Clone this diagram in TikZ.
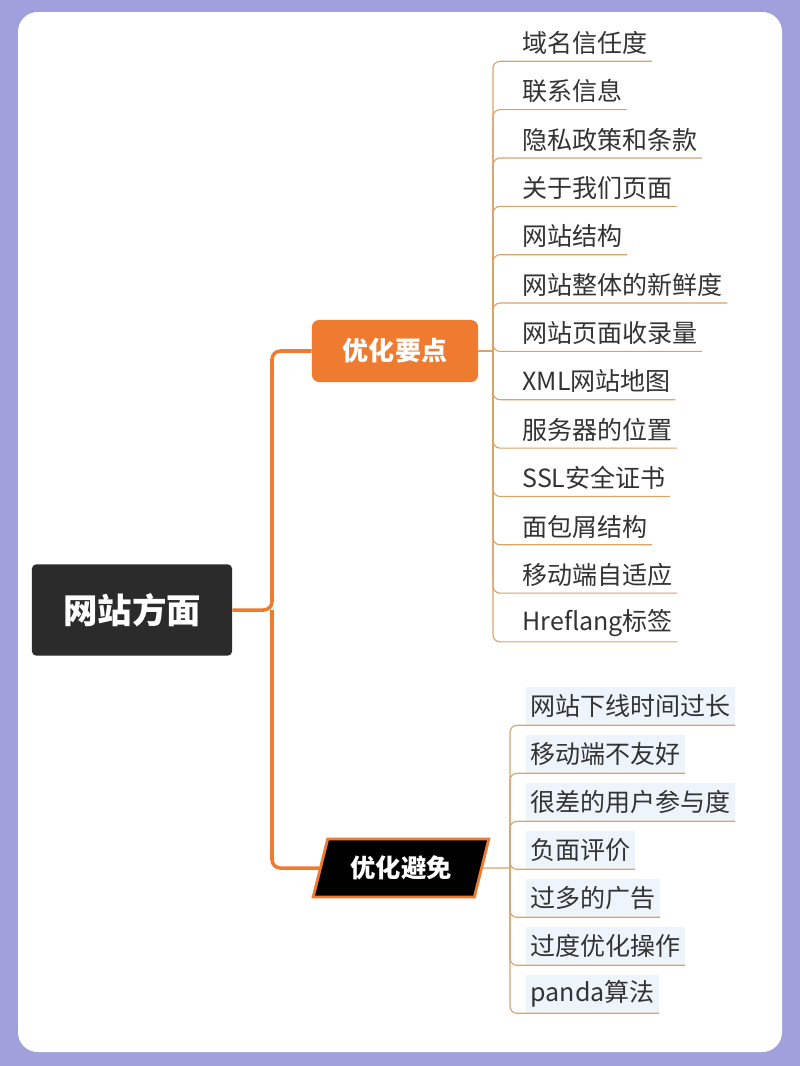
\documentclass[tikz,border=0pt]{standalone}
\usepackage{fontspec}
\setmainfont{Noto Sans CJK SC}
\usetikzlibrary{shapes.geometric}
\definecolor{colour_frame}{HTML}{9FA0DC}
\definecolor{colour_orange}{HTML}{EE7B30}
\definecolor{colour_line}{HTML}{D9A46A}
\definecolor{colour_tint}{HTML}{EEF4FB}
\definecolor{colour_root}{HTML}{2B2B2B}

\begin{document}
\begin{tikzpicture}
   [
      x=0.025cm, y=-0.025cm,
      root/.style={rounded corners=3pt, fill=colour_root, text=white, minimum width=5cm, minimum height=2.28cm, font=\fontsize{24.5}{28}\selectfont\bfseries},
      branch/.style={rounded corners=5pt, fill=colour_orange, text=white, minimum width=4.15cm, minimum height=1.55cm, font=\fontsize{18.5}{22}\selectfont\bfseries},
      avoid/.style={trapezium, trapezium left angle=72, trapezium right angle=108, trapezium stretches=true, fill=black, draw=colour_orange, line width=2pt, text=white, minimum width=4.4cm, minimum height=1.45cm, font=\fontsize{18}{21}\selectfont\bfseries},
      item/.style={anchor=west, inner xsep=3pt, minimum height=0.9cm, text=black!80, font=\fontsize{17.8}{20}\selectfont},
      tinted/.style={item, fill=colour_tint, minimum height=0.95cm},
      main link/.style={colour_orange, line width=2.5pt, rounded corners=6pt},
      leaf link/.style={colour_line, line width=0.8pt, rounded corners=5pt}
   ]

   % frame
   \fill[colour_frame] (0,0) rectangle (800,1066);
   \fill[white, rounded corners=14pt] (18,12) rectangle (782,1052);

   % main nodes
   \node[root] (site) at (132,610) {网站方面};
   \node[branch] (keys) at (395,351) {优化要点};
   \node[avoid] (avoids) at (401,868) {优化避免};

   \coordinate (hub_main) at (272,610);
   \draw[main link] (site.east) -- (hub_main) |- (keys.west);
   \draw[main link] (hub_main) |- (avoids.west);

   % =======================================================
   % points to optimise
   % =======================================================
   \coordinate (hub_keys) at (493,351);
   \draw[leaf link] (keys.east) -- (hub_keys);
   \foreach \t [count=\i from 0] in {域名信任度, 联系信息, 隐私政策和条款, 关于我们页面, 网站结构,
         网站整体的新鲜度, 网站页面收录量, XML网站地图, 服务器的位置, SSL安全证书,
         面包屑结构, 移动端自适应, Hreflang标签}
   {
      \node[item] (key_\i) at (518,{43+48.35*\i}) {\t};
      \draw[leaf link] (hub_keys) |- (key_\i.south east);
   }

   % =======================================================
   % things to avoid
   % =======================================================
   \coordinate (hub_avoid) at (510,868);
   \draw[leaf link] (avoids.east) -- (hub_avoid);
   \foreach \t [count=\i from 0] in {网站下线时间过长, 移动端不友好, 很差的用户参与度, 负面评价,
         过多的广告, 过度优化操作, panda算法}
   {
      \node[tinted] (avoid_\i) at (526,{706+48*\i}) {\t};
      \draw[leaf link] (hub_avoid) |- (avoid_\i.south east);
   }

\end{tikzpicture}
\end{document}
